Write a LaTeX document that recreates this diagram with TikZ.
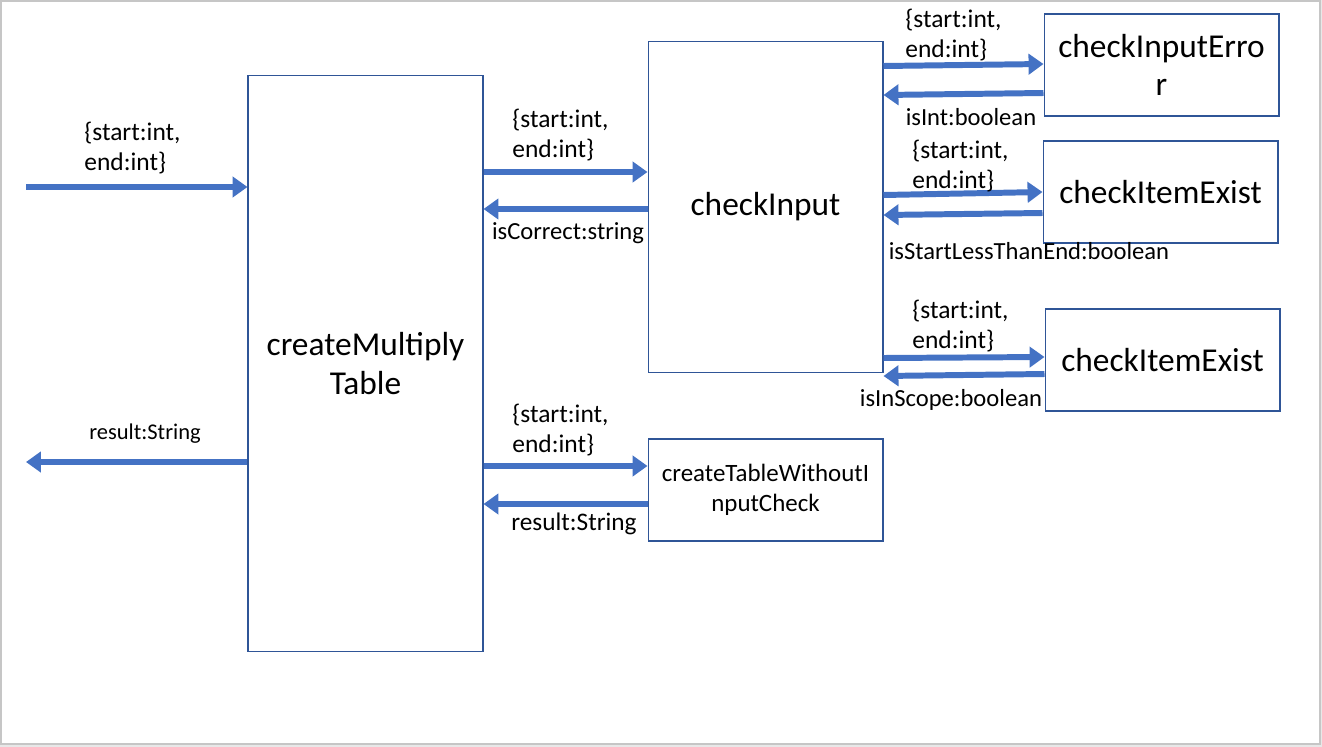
\documentclass[tikz,border=0pt]{standalone}
\usepackage{fontspec}
\setmainfont{Carlito}
\usetikzlibrary{arrows.meta,positioning}
\definecolor{arrowblue}{HTML}{4472C4}
\definecolor{boxblue}{HTML}{2F5597}
\begin{document}
\begin{tikzpicture}[x=0.02cm,y=-0.02cm,
				box/.style={draw=boxblue,line width=0.6pt,rectangle,minimum width=4.7cm,minimum height=2.04cm,align=center,inner sep=2pt},
				big/.style={font=\fontsize{19}{22}\selectfont},
				flow/.style={draw=arrowblue,line width=3.4pt,-{Triangle[length=8.5pt,width=11.5pt]}},
				lbl/.style={inner sep=0pt,align=left,font=\fontsize{14.5}{16.8}\selectfont},
				ret/.style={inner sep=0pt,font=\fontsize{14}{16}\selectfont}]
			\fill[gray!18] (0,0) rectangle (1322,747);
			\filldraw[fill=white,draw=gray!45,line width=0.6pt] (1,1) rectangle (1320,744);
			\node [box,big,minimum height=11.54cm] (cmt) at (365.5,363.5) {createMultiply\\Table};
			\node [box,big,minimum height=6.64cm] (ci) at (765.5,207) {\raisebox{-3pt}{checkInput}};
			\node [box,big] (cie) at (1161.5,65) {checkInputErro\\r};
			\node [box,big] (exist1) at (1160.5,192) {checkItemExist};
			\node [box,big] (exist2) at (1162.5,360) {checkItemExist};
			\node [box,font=\fontsize{14.2}{16.8}\selectfont] (ctw) at (765.5,490) {createTableWithoutI\\nputCheck};
			\coordinate (in) at (26,187);
			\coordinate (out) at (26,462);
			\draw [flow] (in) -- (cmt.west |- in);
			\draw [flow] (cmt.west |- out) -- (out);
			\draw [flow] (cmt.east |- 0,172) -- (ci.west |- 0,172);
			\draw [flow] (ci.west |- 0,209) -- (cmt.east |- 0,209);
			\draw [flow] (cmt.east |- 0,466) -- (ctw.west |- 0,466);
			\draw [flow] (ctw.west |- 0,504) -- (cmt.east |- 0,504);
			\draw [flow] (ci.east |- 0,66) -- (cie.west |- 0,64);
			\draw [flow] (cie.west |- 0,93) -- (ci.east |- 0,95);
			\draw [flow] (ci.east |- 0,195) -- (exist1.west |- 0,192);
			\draw [flow] (exist1.west |- 0,213) -- (ci.east |- 0,215);
			\draw [flow] (ci.east |- 0,358) -- (exist2.west |- 0,357);
			\draw [flow] (exist2.west |- 0,374) -- (ci.east |- 0,376);
			\node [lbl,anchor=west] (inlbl) at (84,148) {\{start:int,\\end:int\}};
			\node [lbl,anchor=west] (cilbl) at (512,135) {\{start:int,\\end:int\}};
			\node [lbl,anchor=west] (ctwlbl) at (512,430) {\{start:int,\\end:int\}};
			\node [lbl,anchor=west] (cielbl) at (905,35) {\{start:int,\\end:int\}};
			\node [lbl,anchor=west] (ex1lbl) at (912,166) {\{start:int,\\end:int\}};
			\node [lbl,anchor=west] (ex2lbl) at (912,326) {\{start:int,\\end:int\}};
			\node [ret,font=\fontsize{12.8}{15}\selectfont] (outlbl) at (145,434) {result:String};
			\node [ret] (corrlbl) at (568,233) {isCorrect:string};
			\node [ret,font=\fontsize{14.4}{16}\selectfont] (reslbl) at (574,524) {result:String};
			\node [ret] (intlbl) at (971,117) {isInt:boolean};
			\node [ret] (lesslbl) at (1029,251) {isStartLessThanEnd:boolean};
			\node [ret] (scopelbl) at (951,400) {isInScope:boolean};
		\end{tikzpicture}
\end{document}
